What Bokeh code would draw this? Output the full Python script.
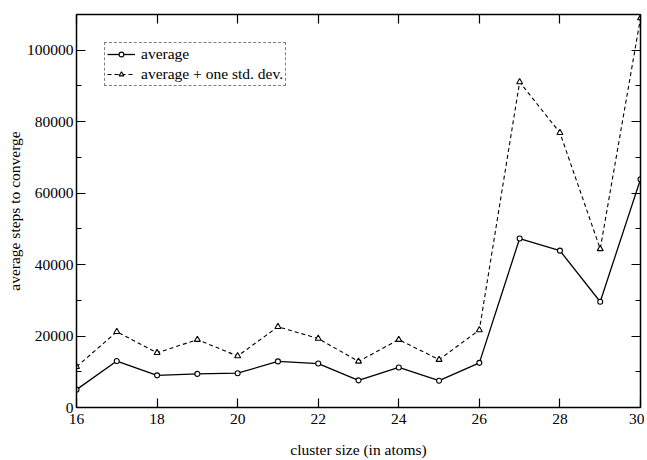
from bokeh.plotting import figure
from bokeh.models import (LinearAxis, SingleIntervalTicker, Range1d, Legend, LegendItem,
                          NumeralTickFormatter, CustomJSTickFormatter)
from bokeh.embed import file_html
from bokeh.resources import INLINE

sizes = [16, 17, 18, 19, 20, 21, 22, 23, 24, 25, 26, 27, 28, 29, 30]
average = [5000, 13000, 9000, 9400, 9600, 12900, 12300, 7600, 11200, 7500, 12500, 47300, 43900, 29600, 63900]
upper = [11400, 21200, 15300, 19000, 14400, 22600, 19300, 12900, 19000, 13400, 21700, 91100, 76900, 44400, 109000]
x_title = "cluster size (in atoms)"
y_title = "average steps to converge"

FONT = "Liberation Serif"

p = figure(width=644, height=460, output_backend="svg", toolbar_location=None,
           x_range=Range1d(16, 30), y_range=Range1d(0, 110000),
           min_border_left=76, min_border_top=14, min_border_right=4, min_border_bottom=50,
           x_axis_location=None, y_axis_location=None)
p.grid.visible = False
p.outline_line_color = None
p.background_fill_color = "white"
p.border_fill_color = "white"

xt = SingleIntervalTicker(interval=2, num_minor_ticks=0)
yt = SingleIntervalTicker(interval=20000, num_minor_ticks=2)

def style(ax, labels=True):
    ax.axis_line_color = "black"
    ax.axis_line_width = 1.5
    ax.major_tick_in = 9
    ax.major_tick_out = 0
    ax.minor_tick_in = 5
    ax.minor_tick_out = 0
    ax.major_tick_line_width = 1.2
    ax.minor_tick_line_width = 1.2
    ax.major_label_text_font = FONT
    ax.major_label_text_font_size = "15.5px"
    ax.major_label_text_color = "black"
    ax.axis_label_text_font = FONT
    ax.axis_label_text_font_size = "15.5px"
    ax.axis_label_text_font_style = "normal"
    ax.axis_label_text_color = "black"
    if not labels:
        ax.formatter = CustomJSTickFormatter(code="return '';")
        ax.major_label_standoff = 0

bottom = LinearAxis(ticker=xt, axis_label=x_title)
style(bottom)
bottom.major_label_standoff = 6
bottom.axis_label_standoff = 14
p.add_layout(bottom, "below")

left = LinearAxis(ticker=yt, axis_label=y_title,
                  formatter=NumeralTickFormatter(format="0"))
style(left)
left.major_label_standoff = 3
left.axis_label_standoff = 1
p.add_layout(left, "left")

top = LinearAxis(ticker=SingleIntervalTicker(interval=2, num_minor_ticks=0))
style(top, labels=False)
p.add_layout(top, "above")

right = LinearAxis(ticker=SingleIntervalTicker(interval=20000, num_minor_ticks=2))
style(right, labels=False)
p.add_layout(right, "right")

l1 = p.line(sizes, average, line_color="black", line_width=1.3)
m1 = p.scatter(sizes, average, marker="circle", size=5, fill_color="white", line_color="black", line_width=1.1)
l2 = p.line(sizes, upper, line_color="black", line_width=1.1, line_dash="4 3")
m2 = p.scatter(sizes, upper, marker="triangle", size=6, fill_color="white", line_color="black", line_width=1.1)

legend = Legend(items=[LegendItem(label="average", renderers=[l1, m1]),
                       LegendItem(label="average + one std. dev.", renderers=[l2, m2])],
                location="top_left", margin=28)
legend.border_line_color = "black"
legend.border_line_dash = "1 2"
legend.border_line_width = 1
legend.label_text_font = FONT
legend.label_text_font_size = "15.5px"
legend.label_text_color = "black"
legend.glyph_width = 28
legend.glyph_height = 12
legend.label_standoff = 6
legend.spacing = 2
legend.padding = 2
legend.label_height = 12
p.add_layout(legend)

open("out.html", "w").write(file_html(p, INLINE))
